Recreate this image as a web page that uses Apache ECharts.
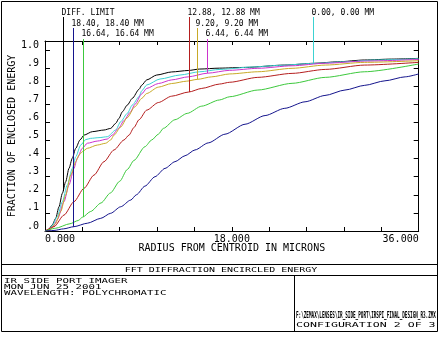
<!DOCTYPE html>
<html><head><meta charset="utf-8">
<script src="https://cdn.jsdelivr.net/npm/echarts@6/dist/echarts.min.js"></script>
<style>html,body{margin:0;padding:0;background:#fff}#c{width:442px;height:342px}</style>
</head><body><div id="c"></div>
<script>
// ---- tick labels ----
const xTickValues = [0, 18, 36];
const xTickLabels = ['0.000', '18.000', '36.000'];
const yTickLabels = ['.0', '.1', '.2', '.3', '.4', '.5', '.6', '.7', '.8', '.9', '1.0'];

// ---- series (radius in microns, fraction of enclosed energy) ----
const seriesNames = ['DIFF. LIMIT', '0.00, 0.00 MM', '6.44, 6.44 MM', '9.20, 9.20 MM', '12.88, 12.88 MM', '16.64, 16.64 MM', '18.40, 18.40 MM'];
const seriesColors = ['#000000', '#3cd2d2', '#cc33cc', '#c8aa28', '#b41e1e', '#3cc83c', '#14148c'];

const diffLimit = [[0,0],[0.3,0.005],[0.7,0.033],[1.03,0.07],[1.35,0.134],[1.67,0.208],[1.99,0.272],[2.31,0.346],[2.63,0.402],[2.96,0.457],[3.37,0.503],[3.76,0.53],[4.56,0.549],[5.68,0.558],[6.33,0.567],[6.81,0.595],[7.13,0.623],[7.45,0.659],[7.93,0.696],[8.41,0.733],[9.06,0.783],[9.32,0.806],[9.8,0.835],[10.76,0.862],[12.2,0.879],[13.8,0.887],[14.9,0.895],[16.8,0.9],[19.3,0.904],[23.1,0.917],[26.0,0.927],[28.2,0.935],[30.8,0.945],[33.4,0.95],[36,0.954]];
const field000 = [[0,0],[0.3,0.004],[0.7,0.03],[1.18,0.079],[1.67,0.162],[2.15,0.254],[2.63,0.346],[2.96,0.41],[3.44,0.475],[3.92,0.505],[4.4,0.512],[5.2,0.516],[6.0,0.521],[6.81,0.558],[7.29,0.604],[7.93,0.65],[8.41,0.696],[9.06,0.742],[9.32,0.775],[9.8,0.807],[11.08,0.84],[13.0,0.862],[14.9,0.88],[16.86,0.893],[19.9,0.906],[22.5,0.915],[25.85,0.926],[28.9,0.935],[31.8,0.945],[36,0.952]];
const field644 = [[0,0],[0.4,0.004],[0.8,0.025],[1.2,0.065],[1.83,0.162],[2.31,0.254],[2.79,0.346],[3.11,0.402],[3.59,0.457],[4.08,0.485],[5.04,0.497],[6.0,0.508],[6.48,0.53],[7.1,0.568],[7.6,0.61],[8.2,0.655],[8.67,0.7],[9.32,0.758],[9.8,0.788],[10.92,0.815],[12.2,0.835],[13.8,0.852],[15.64,0.872],[17.8,0.888],[20.5,0.899],[23.8,0.913],[27.0,0.927],[30.8,0.939],[36,0.948]];
const field920 = [[0,0],[0.5,0.008],[1.0,0.04],[1.51,0.107],[1.99,0.199],[2.48,0.309],[2.96,0.383],[3.28,0.42],[3.59,0.438],[4.08,0.457],[5.04,0.475],[5.85,0.485],[6.33,0.503],[6.65,0.53],[7.3,0.575],[7.9,0.625],[8.67,0.687],[9.32,0.733],[9.8,0.76],[10.92,0.795],[12.2,0.815],[13.65,0.828],[14.67,0.838],[16.06,0.852],[17.8,0.868],[20.5,0.88],[23.8,0.899],[27.0,0.917],[30.8,0.932],[36,0.941]];
const field1288 = [[0,0],[0.87,0.024],[1.83,0.088],[2.79,0.162],[3.76,0.236],[4.72,0.309],[5.68,0.383],[6.65,0.448],[7.61,0.503],[8.09,0.53],[8.57,0.572],[9.06,0.615],[9.8,0.668],[10.92,0.71],[12.2,0.745],[13.84,0.768],[15.1,0.788],[16.8,0.812],[17.8,0.822],[20.5,0.849],[23.8,0.871],[27.0,0.893],[30.8,0.917],[36,0.932]];
const field1664 = [[0,0],[1.0,0.015],[2.4,0.04],[3.2,0.058],[3.63,0.077],[4.4,0.108],[5.4,0.155],[6.3,0.21],[7.2,0.275],[7.93,0.34],[8.57,0.39],[9.63,0.466],[10.28,0.503],[10.92,0.535],[11.4,0.567],[12.52,0.615],[13.7,0.65],[15.1,0.69],[16.8,0.724],[17.8,0.742],[20.5,0.779],[23.8,0.816],[27.0,0.849],[30.8,0.88],[36,0.923]];
const field1840 = [[0,0],[0.87,0.003],[1.8,0.012],[2.79,0.024],[4.08,0.043],[5.37,0.07],[6.33,0.098],[7.29,0.134],[8.26,0.171],[8.8,0.2],[9.63,0.248],[10.6,0.3],[11.56,0.346],[12.52,0.383],[13.49,0.416],[14.45,0.448],[15.73,0.487],[17.34,0.535],[19.27,0.59],[21.2,0.638],[23.1,0.678],[25.05,0.714],[26.97,0.749],[28.9,0.779],[30.8,0.805],[32.75,0.83],[34.7,0.852],[36,0.868]];
const allSeries = [diffLimit, field000, field644, field920, field1288, field1664, field1840];

// radius (microns) where each series' label leader line meets its curve
const markerX = [1.73, 25.85, 15.64, 14.67, 13.84, 3.63, 2.70];
const markerRow = [0, 0, 2, 1, 0, 2, 1];

// ---- texts ----
const chartTitle = 'FFT DIFFRACTION ENCIRCLED ENERGY';
const infoLines = ['IR SIDE PORT IMAGER', 'MON JUN 25 2001', 'WAVELENGTH: POLYCHROMATIC'];
const filePath = 'F:\\ZEMAX\\LENSES\\IR_SIDE_PORT\\IRSPI_FINAL_DESIGN_R3.ZMX';
const configText = 'CONFIGURATION 2 OF 3';

const FONT = '"DejaVu Sans Mono", monospace';
const chart = echarts.init(document.getElementById('c'), null, {renderer: 'canvas'});

function xLabel(v) {
  for (let i = 0; i < xTickValues.length; i++) if (Math.abs(v - xTickValues[i]) < 1e-6) return xTickLabels[i];
  return '';
}
function yLabel(v) {
  const i = Math.round(v * 10);
  if (Math.abs(v * 10 - i) > 1e-6 || i < 0 || i >= yTickLabels.length) return '';
  return yTickLabels[i];
}
const black = {color: '#000', width: 1};
const baseX = {type: 'value', min: 0, max: 36, interval: 3.6, splitLine: {show: false}};
const baseY = {type: 'value', min: 0, max: 1.05, interval: 0.1, splitLine: {show: false}};

chart.setOption({
  animation: false,
  backgroundColor: '#fff',
  grid: {left: 45, right: 23.3, top: 41, bottom: 111, containLabel: false, outerBoundsMode: 'none'},
  xAxis: [
    Object.assign({}, baseX, {
      position: 'bottom',
      axisLine: {show: true, onZero: false, lineStyle: black},
      axisTick: {show: true, inside: true, length: 4, lineStyle: black},
      axisLabel: {show: true, interval: 0, margin: 3, color: '#000', fontFamily: FONT, fontSize: 10,
        formatter: xLabel, alignMinLabel: 'left', alignMaxLabel: 'right', showMinLabel: true, showMaxLabel: true, hideOverlap: false},
      name: 'RADIUS FROM CENTROID IN MICRONS', nameLocation: 'middle', nameGap: 12, nameMoveOverlap: false,
      nameTextStyle: {color: '#000', fontFamily: FONT, fontSize: 10}
    }),
    Object.assign({}, baseX, {
      position: 'top',
      axisLine: {show: true, onZero: false, lineStyle: black},
      axisTick: {show: true, inside: true, length: 4, lineStyle: black},
      axisLabel: {show: false}
    })
  ],
  yAxis: [
    Object.assign({}, baseY, {
      position: 'left',
      axisLine: {show: true, onZero: false, lineStyle: black},
      axisTick: {show: true, inside: true, length: 5, lineStyle: black},
      axisLabel: {show: true, interval: 0, margin: 6, color: '#000', fontFamily: FONT, fontSize: 10,
        formatter: yLabel, verticalAlign: 'bottom', lineHeight: 10, showMaxLabel: true, hideOverlap: false},
      name: 'FRACTION OF ENCLOSED ENERGY', nameLocation: 'middle', nameGap: 28, nameRotate: 90, nameMoveOverlap: false,
      nameTextStyle: {color: '#000', fontFamily: FONT, fontSize: 10}
    }),
    Object.assign({}, baseY, {
      position: 'right',
      axisLine: {show: true, onZero: false, lineStyle: black},
      axisTick: {show: true, inside: true, length: 5, lineStyle: black},
      axisLabel: {show: false}
    })
  ],
  series: allSeries.map((d, i) => ({
    name: seriesNames[i], type: 'line', data: d, xAxisIndex: 0, yAxisIndex: 0,
    showSymbol: false, symbol: 'none', smooth: 0.25, smoothMonotone: 'x',
    lineStyle: {color: seriesColors[i], width: 1}, itemStyle: {color: seriesColors[i]},
    z: 2 + i, silent: true
  }))
});

function curveAt(d, x) {
  for (let i = 1; i < d.length; i++) {
    if (x <= d[i][0]) {
      const t = (x - d[i-1][0]) / (d[i][0] - d[i-1][0]);
      return d[i-1][1] + t * (d[i][1] - d[i-1][1]);
    }
  }
  return d[d.length - 1][1];
}

const rowTextY = [12.7, 23.7, 33.7];
const rowLineTop = [17, 28, 39];
const graphics = [];
allSeries.forEach((d, i) => {
  const p = chart.convertToPixel({xAxisIndex: 0, yAxisIndex: 0}, [markerX[i], curveAt(d, markerX[i])]);
  const px = Math.round(p[0]) + 0.5;
  graphics.push({type: 'line', shape: {x1: px, y1: rowLineTop[markerRow[i]], x2: px, y2: p[1]},
    style: {stroke: seriesColors[i], lineWidth: 1}, z: 50, silent: true});
  graphics.push({type: 'text', x: px - 2, y: rowTextY[markerRow[i]],
    style: {text: seriesNames[i], font: '8px ' + FONT, fill: '#000', textAlign: 'left', textVerticalAlign: 'middle'}, z: 51, silent: true});
});

// frame + info block
graphics.push({type: 'rect', shape: {x: 1.5, y: 1.5, width: 436, height: 330}, style: {fill: null, stroke: '#000', lineWidth: 1}, z: 40, silent: true});
graphics.push({type: 'line', shape: {x1: 1.5, y1: 264.5, x2: 437.5, y2: 264.5}, style: {stroke: '#000', lineWidth: 1}, z: 40, silent: true});
graphics.push({type: 'line', shape: {x1: 1.5, y1: 275.5, x2: 437.5, y2: 275.5}, style: {stroke: '#000', lineWidth: 1}, z: 40, silent: true});
graphics.push({type: 'line', shape: {x1: 294.5, y1: 275.5, x2: 294.5, y2: 331.5}, style: {stroke: '#000', lineWidth: 1}, z: 40, silent: true});
graphics.push({type: 'text', x: 221, y: 270, scaleY: 0.72,
  style: {text: chartTitle, font: '10px ' + FONT, fill: '#000', textAlign: 'center', textVerticalAlign: 'middle'}, z: 41, silent: true});
infoLines.forEach((t, i) => {
  graphics.push({type: 'text', x: 4, y: 281 + i * 6.2, scaleY: 0.64,
    style: {text: t, font: '10.8px ' + FONT, fill: '#000', textAlign: 'left', textVerticalAlign: 'middle'}, z: 41, silent: true});
});
graphics.push({type: 'text', x: 296, y: 315.8, scaleX: 140 / (filePath.length * 5.42), scaleY: 0.9,
  style: {text: filePath, font: 'bold 9px ' + FONT, fill: '#000', textAlign: 'left', textVerticalAlign: 'middle'}, z: 41, silent: true});
graphics.push({type: 'text', x: 296, y: 325, scaleY: 0.6,
  style: {text: configText, font: '11.6px ' + FONT, fill: '#000', textAlign: 'left', textVerticalAlign: 'middle'}, z: 41, silent: true});

chart.setOption({graphic: graphics});
</script>
</body></html>
